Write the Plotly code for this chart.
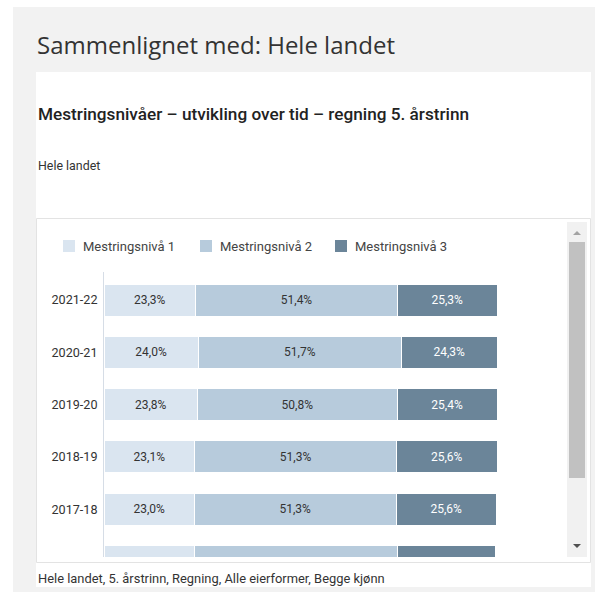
import plotly.graph_objects as go

W, H = 595, 592

# ---- data ----
years = ["2021-22", "2020-21", "2019-20", "2018-19", "2017-18", "2016-17"]
level_names = ["Mestringsnivå 1", "Mestringsnivå 2", "Mestringsnivå 3"]
niva1 = [23.3, 24.0, 23.8, 23.1, 23.0, 22.9]
niva2 = [51.4, 51.7, 50.8, 51.3, 51.3, 51.9]
niva3 = [25.3, 24.3, 25.4, 25.6, 25.6, 24.8]
colors = ["#dae5f0", "#b7cbdc", "#6b8599"]
label_colors = ["#333333", "#333333", "#ffffff"]

header = "Sammenlignet med: Hele landet"
title = "Mestringsnivåer – utvikling over tid – regning 5. årstrinn"
subtitle = "Hele landet"
footer = "Hele landet, 5. årstrinn, Regning, Alle eierformer, Begge kjønn"


def fx(x):
    return x / W


def fy(y):
    return 1 - y / H


def fmt(v):
    return f"{v:.1f}".replace(".", ",") + "%"


fig = go.Figure()
for name, vals, col, lc in zip(level_names, [niva1, niva2, niva3], colors, label_colors):
    fig.add_trace(go.Bar(
        y=years, x=vals, name=name, orientation="h",
        marker=dict(color=col, line=dict(color="#ffffff", width=1)),
        text=[fmt(v) for v in vals], textposition="inside",
        insidetextanchor="middle", textangle=0,
        textfont=dict(family="Roboto", size=12, color=lc),
        cliponaxis=True, showlegend=False, hoverinfo="skip",
    ))

# plot geometry (pixels)
x0, x1 = 104, 497
top, bot = 272, 557
pitch = 52.3
c0 = 300
r_top = -(c0 - top) / pitch
r_bot = (bot - c0) / pitch

shapes = [
    # outer grey page background
    dict(type="rect", xref="paper", yref="paper", x0=fx(13), x1=1, y0=0, y1=fy(7),
         fillcolor="#f2f2f2", line_width=0, layer="below"),
    # white card
    dict(type="rect", xref="paper", yref="paper", x0=fx(36), x1=fx(591), y0=fy(587), y1=fy(72),
         fillcolor="#ffffff", line_width=0, layer="below"),
    # chart frame
    dict(type="rect", xref="paper", yref="paper", x0=fx(36.5), x1=fx(590.5), y0=fy(562.5), y1=fy(218.5),
         fillcolor="rgba(0,0,0,0)", line=dict(color="#e3e3e3", width=1), layer="below"),
    # scrollbar track
    dict(type="rect", xref="paper", yref="paper", x0=fx(567), x1=fx(587), y0=fy(557), y1=fy(222),
         fillcolor="#f1f1f1", line_width=0),
    # scrollbar thumb
    dict(type="rect", xref="paper", yref="paper", x0=fx(569), x1=fx(585), y0=fy(478), y1=fy(242),
         fillcolor="#c1c1c1", line_width=0),
    # arrows
    dict(type="path", xref="paper", yref="paper",
         path=f"M {fx(573)} {fy(235)} L {fx(581)} {fy(235)} L {fx(577)} {fy(231)} Z",
         fillcolor="#a3a3a3", line_width=0),
    dict(type="path", xref="paper", yref="paper",
         path=f"M {fx(573)} {fy(544)} L {fx(581)} {fy(544)} L {fx(577)} {fy(548)} Z",
         fillcolor="#505050", line_width=0),
]

# legend (manual)
leg_sym_x = [63, 200, 335]
for lx, col, name in zip(leg_sym_x, colors, level_names):
    shapes.append(dict(type="rect", xref="paper", yref="paper",
                       x0=fx(lx), x1=fx(lx + 12), y0=fy(252), y1=fy(240),
                       fillcolor=col, line_width=0))

annotations = [
    dict(text=header, x=fx(35), y=fy(45), xref="paper", yref="paper", xanchor="left", yanchor="middle",
         showarrow=False, font=dict(family="Open Sans", size=24, color="#333333")),
    dict(text=title, x=fx(36), y=fy(114), xref="paper", yref="paper", xanchor="left", yanchor="middle",
         showarrow=False, font=dict(family="Roboto", size=17.2, color="#222222", weight=500)),
    dict(text=subtitle, x=fx(36), y=fy(165), xref="paper", yref="paper", xanchor="left", yanchor="middle",
         showarrow=False, font=dict(family="Roboto", size=12.4, color="#333333")),
    dict(text=footer, x=fx(36), y=fy(578), xref="paper", yref="paper", xanchor="left", yanchor="middle",
         showarrow=False, font=dict(family="Roboto", size=12.9, color="#333333")),
]
for lx, name in zip(leg_sym_x, level_names):
    annotations.append(dict(text=name, x=fx(lx + 18), y=fy(246), xref="paper", yref="paper",
                            xanchor="left", yanchor="middle", showarrow=False,
                            font=dict(family="Roboto", size=13, color="#444444")))

fig.update_layout(
    width=W, height=H, margin=dict(l=0, r=0, t=0, b=0),
    paper_bgcolor="#ffffff", plot_bgcolor="rgba(0,0,0,0)",
    barmode="stack", bargap=1 - 32 / pitch,
    showlegend=False,
    xaxis=dict(domain=[fx(x0), fx(x1)], range=[0, 100], visible=False, fixedrange=True),
    yaxis=dict(domain=[fy(bot), fy(top)], range=[r_bot, r_top], type="category",
               categoryorder="array", categoryarray=years,
               showline=True, linecolor="#d6dde6", linewidth=1, ticks="",
               showgrid=False, zeroline=False, ticklabelstandoff=3,
               tickfont=dict(family="Roboto", size=12.6, color="#333333"), fixedrange=True),
    shapes=shapes, annotations=annotations,
)

fig.write_html(
    "out.html",
    config={"displayModeBar": False},
    post_script="document.body.style.margin='0';document.body.style.padding='0';"
                "document.documentElement.style.overflow='hidden';",
)
